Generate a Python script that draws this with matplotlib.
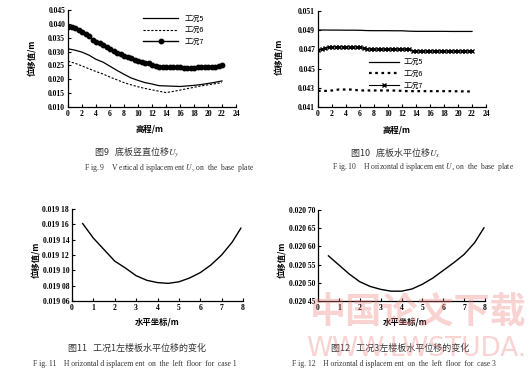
import numpy as np
import matplotlib
matplotlib.use("Agg")
import matplotlib.pyplot as plt
from matplotlib.ticker import FuncFormatter

plt.rcParams['font.family'] = ['Liberation Serif', 'Noto Sans CJK SC', 'DejaVu Sans']
plt.rcParams['mathtext.fontset'] = 'stix'

# ---- data: fig 9, vertical displacement of base plate ----
x9 = list(range(0, 23))
case5_v = [0.0310, 0.0305, 0.0298, 0.0287, 0.0272, 0.0262, 0.0247, 0.0232, 0.0218, 0.0205,
           0.0196, 0.0188, 0.0183, 0.0177, 0.0176, 0.0175, 0.0174, 0.0176, 0.0178, 0.0181,
           0.0185, 0.0189, 0.0194]
case6_v = [0.0265, 0.0258, 0.0248, 0.0238, 0.0228, 0.0219, 0.0208, 0.0198, 0.0188, 0.0180,
           0.0173, 0.0167, 0.0162, 0.0157, 0.0152, 0.0156, 0.0161, 0.0166, 0.0171, 0.0176,
           0.0180, 0.0184, 0.0188]
x9_fine = [i * 0.5 for i in range(45)]
case7_v = [0.0390, 0.0388, 0.0384, 0.0378, 0.0370, 0.0365, 0.0355, 0.0343, 0.0335, 0.0330,
           0.0322, 0.0315, 0.0308, 0.0302, 0.0296, 0.0290, 0.0284, 0.0280, 0.0275, 0.0271,
           0.0267, 0.0263, 0.0260, 0.0257, 0.0253, 0.0249, 0.0246, 0.0245, 0.0245, 0.0244,
           0.0244, 0.0243, 0.0243, 0.0242, 0.0241, 0.0242, 0.0242, 0.0243, 0.0243, 0.0243,
           0.0244, 0.0245, 0.0246, 0.0249, 0.0251]

# ---- data: fig 10, horizontal displacement of base plate ----
case5_h = [0.04902, 0.04902, 0.04901, 0.04901, 0.04900, 0.04900, 0.04899, 0.04896, 0.04895,
           0.04895, 0.04895, 0.04894, 0.04894, 0.04890, 0.04888, 0.04888, 0.04888, 0.04888,
           0.04888, 0.04887, 0.04887, 0.04887, 0.04887]
case7_h = [0.04692, 0.04700, 0.04712, 0.04720, 0.04725, 0.04726, 0.04726, 0.04726, 0.04726,
           0.04725, 0.04725, 0.04725, 0.04724, 0.04712, 0.04704, 0.04703, 0.04703, 0.04703,
           0.04702, 0.04702, 0.04702, 0.04702, 0.04702, 0.04702, 0.04701, 0.04701, 0.04700,
           0.04688, 0.04683, 0.04683, 0.04683, 0.04683, 0.04683, 0.04683, 0.04683, 0.04683,
           0.04683, 0.04683, 0.04683, 0.04683, 0.04683, 0.04683, 0.04683, 0.04683, 0.04683]
case6_h = [0.04268, 0.04268, 0.04268, 0.04268, 0.04272, 0.04278, 0.04282, 0.04282, 0.04282,
           0.04282, 0.04281, 0.04276, 0.04273, 0.04272, 0.04272, 0.04272, 0.04272, 0.04272,
           0.04272, 0.04272, 0.04272, 0.04272, 0.04271, 0.04270, 0.04268, 0.04266, 0.04265,
           0.04265, 0.04265, 0.04265, 0.04265, 0.04265, 0.04265, 0.04265, 0.04265, 0.04265,
           0.04265, 0.04265, 0.04265, 0.04264, 0.04264, 0.04263, 0.04263, 0.04262, 0.04262]

# ---- data: fig 11 / fig 12, left floor ----
x11 = [0.5, 1, 1.5, 2, 2.5, 3, 3.5, 4, 4.5, 5, 5.5, 6, 6.5, 7, 7.5, 7.9]
case1 = [0.019161, 0.019142, 0.019127, 0.019112, 0.019103, 0.019093, 0.019087, 0.019084,
         0.019083, 0.019085, 0.019090, 0.019097, 0.019107, 0.019120, 0.019137, 0.019155]
x12 = [0.5, 1, 1.5, 2, 2.5, 3, 3.5, 4, 4.5, 5, 5.5, 6, 6.5, 7, 7.5, 7.95]
case3 = [0.020574, 0.020549, 0.020524, 0.020503, 0.020490, 0.020482, 0.020477, 0.020477,
         0.020483, 0.020496, 0.020513, 0.020534, 0.020555, 0.020578, 0.020610, 0.020651]

fig = plt.figure(figsize=(5.30, 3.77), dpi=100)
W, H = 530.0, 377.0
cjk = ['Noto Sans CJK SC', 'DejaVu Sans']


def make_ax(l, t, r, b):
    ax = fig.add_axes([l / W, 1 - b / H, (r - l) / W, (b - t) / H])
    for s in ['top', 'right']:
        ax.spines[s].set_visible(False)
    for s in ['left', 'bottom']:
        ax.spines[s].set_linewidth(0.9)
    ax.tick_params(direction='in', length=2.5, width=0.8, labelsize=5.5, pad=2)
    return ax


def bold_ticks(ax):
    for lab in ax.get_xticklabels() + ax.get_yticklabels():
        lab.set_fontweight('bold')


def split_fmt(v, p):
    s = f"{v:.5f}"
    return s[:5] + " " + s[5:]


# fig 9
ax1 = make_ax(68, 10, 236, 107)
ax1.plot(x9, case5_v, color='black', lw=0.9, label='工况5')
ax1.plot(x9, case6_v, color='black', lw=0.8, ls=(0, (2, 1.5)), label='工况6')
ax1.plot(x9_fine, case7_v, color='black', lw=1.0, marker='o', ms=3.2, label='工况7')
ax1.set_xlim(0, 24)
ax1.set_ylim(0.010, 0.045)
ax1.set_xticks(range(0, 25, 2))
ax1.set_yticks(np.arange(0.010, 0.0451, 0.005))
ax1.yaxis.set_major_formatter(FuncFormatter(lambda v, p: f"{v:.3f}"))
bold_ticks(ax1)
ax1.legend(loc='upper right', bbox_to_anchor=(0.85, 1.02), frameon=False,
           handlelength=4.6, labelspacing=0.45, prop={'family': cjk, 'size': 5.5})

# fig 10
ax2 = make_ax(318, 11, 486, 107)
ax2.plot(x9, case5_h, color='black', lw=0.9, label='工况5')
ax2.plot(x9_fine, case6_h, color='black', lw=1.6, ls=(0, (1.2, 1.6)), label='工况6')
ax2.plot(x9_fine, case7_h, color='black', lw=0.8, marker='x', ms=3.5, mew=1.0, label='工况7')
ax2.set_xlim(0, 24)
ax2.set_ylim(0.041, 0.051)
ax2.set_xticks(range(0, 25, 2))
ax2.set_yticks(np.arange(0.041, 0.0511, 0.002))
ax2.yaxis.set_major_formatter(FuncFormatter(lambda v, p: f"{v:.3f}"))
bold_ticks(ax2)
ax2.legend(loc='upper left', bbox_to_anchor=(0.26, 0.58), frameon=False,
           handlelength=4.0, labelspacing=0.5, handletextpad=0.6,
           prop={'family': cjk, 'size': 5.5})

# fig 11
ax3 = make_ax(72, 209, 243, 301)
ax3.plot(x11, case1, color='black', lw=1.0)
ax3.set_xlim(0, 8)
ax3.set_ylim(0.01906, 0.01918)
ax3.set_xticks(range(0, 9))
ax3.set_yticks([0.01906, 0.01908, 0.01910, 0.01912, 0.01914, 0.01916, 0.01918])
ax3.yaxis.set_major_formatter(FuncFormatter(split_fmt))
bold_ticks(ax3)

# fig 12
ax4 = make_ax(318, 210, 485, 301)
ax4.plot(x12, case3, color='black', lw=1.0)
ax4.set_xlim(0, 8)
ax4.set_ylim(0.02045, 0.02070)
ax4.set_xticks(range(0, 9))
ax4.set_yticks([0.02045, 0.02050, 0.02055, 0.02060, 0.02065, 0.02070])
ax4.yaxis.set_major_formatter(FuncFormatter(split_fmt))
bold_ticks(ax4)


def ftext(x, y, s, **kw):
    fig.text(x / W, 1 - y / H, s, ha=kw.pop('ha', 'center'), va=kw.pop('va', 'center'), **kw)


# axis labels
ftext(150, 129, '高程/m', fontsize=6, fontweight='bold', family=cjk)
ftext(397, 130, '高程/m', fontsize=6, fontweight='bold', family=cjk)
ftext(157, 322, '水平坐标/m', fontsize=6, fontweight='bold', family=cjk)
ftext(405, 322, '水平坐标/m', fontsize=6, fontweight='bold', family=cjk)
ftext(33, 58, '位移值/m', fontsize=6, fontweight='bold', family=cjk, rotation=90)
ftext(280, 57, '位移值/m', fontsize=6, fontweight='bold', family=cjk, rotation=90)
ftext(37, 260, '位移值/m', fontsize=6, fontweight='bold', family=cjk, rotation=90)
ftext(283, 260, '位移值/m', fontsize=6, fontweight='bold', family=cjk, rotation=90)

# captions
ftext(137, 152, '图9   底板竖直位移$U_y$', fontsize=6.5, family=cjk, color='#333333')
ftext(169, 168, 'F ig. 9    V ertical d isplacem ent $U_y$ on  the  base  plate',
      fontsize=5.5, color='#333333')
ftext(395, 153, '图10   底板水平位移$U_x$', fontsize=6.5, family=cjk, color='#333333')
ftext(423, 167, 'F ig. 10    H orizontal d isplacem ent $U_x$ on  the  base  plate',
      fontsize=5.5, color='#333333')
ftext(137, 348, '图11   工况1左楼板水平位移的变化', fontsize=6.5, family=cjk, color='#333333')
ftext(135, 364, 'F ig. 11    H orizontal d isplacem ent  on  the  left  floor  for  case 1',
      fontsize=5.5, color='#333333')
ftext(400, 348, '图12   工况3左楼板水平位移的变化', fontsize=6.5, family=cjk, color='#333333')
ftext(394, 364, 'F ig. 12    H orizontal d isplacem ent  on  the  left  floor  for  case 3',
      fontsize=5.5, color='#333333')

# watermark of the source site
ftext(418, 313, '中国论文下载', fontsize=26, family=cjk, fontweight='bold',
      color='#f08080', alpha=0.35, zorder=10)
ftext(306, 349, 'WWW.LWSTUDA.', fontsize=19, family='DejaVu Sans', ha='left',
      color='#f08080', alpha=0.35, zorder=10)

fig.savefig('out.png', dpi=100)
